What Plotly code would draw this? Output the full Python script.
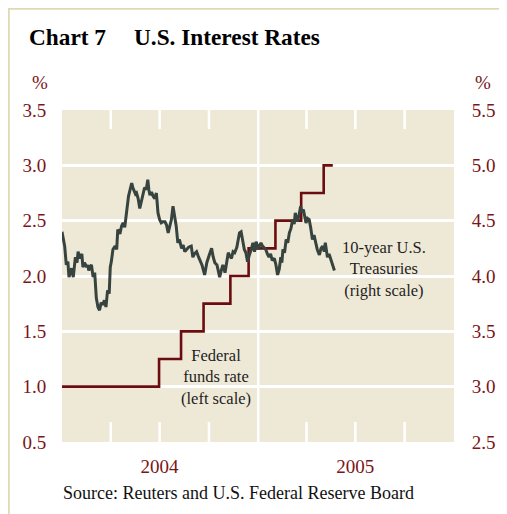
import plotly.graph_objects as go

# ---- data ----
treasury_dates = [
    "2004-01-01", "2004-01-04", "2004-01-06", "2004-01-09", "2004-01-12", "2004-01-14",
    "2004-01-17", "2004-01-19", "2004-01-22", "2004-01-26", "2004-01-29", "2004-01-31",
    "2004-02-02", "2004-02-04", "2004-02-07", "2004-02-09", "2004-02-12", "2004-02-16",
    "2004-02-18", "2004-02-20", "2004-02-23", "2004-02-25", "2004-02-28", "2004-03-02",
    "2004-03-05", "2004-03-08", "2004-03-11", "2004-03-14", "2004-03-17", "2004-03-20",
    "2004-03-23", "2004-03-26", "2004-03-29", "2004-03-31", "2004-04-02", "2004-04-05",
    "2004-04-09", "2004-04-12", "2004-04-14", "2004-04-18", "2004-04-21", "2004-04-24",
    "2004-04-27", "2004-04-30", "2004-05-02", "2004-05-04", "2004-05-07", "2004-05-10",
    "2004-05-12", "2004-05-14", "2004-05-17", "2004-05-19", "2004-05-22", "2004-05-25",
    "2004-05-28", "2004-05-31", "2004-06-03", "2004-06-06", "2004-06-09", "2004-06-11",
    "2004-06-13", "2004-06-16", "2004-06-19", "2004-06-22", "2004-06-25", "2004-06-28",
    "2004-07-01", "2004-07-04", "2004-07-07", "2004-07-11", "2004-07-14", "2004-07-17",
    "2004-07-20", "2004-07-23", "2004-07-26", "2004-07-29", "2004-08-01", "2004-08-04",
    "2004-08-07", "2004-08-11", "2004-08-14", "2004-08-17", "2004-08-20", "2004-08-24",
    "2004-08-29", "2004-09-01", "2004-09-04", "2004-09-08", "2004-09-11", "2004-09-14",
    "2004-09-18", "2004-09-23", "2004-09-27", "2004-10-01", "2004-10-06", "2004-10-09",
    "2004-10-12", "2004-10-16", "2004-10-21", "2004-10-24", "2004-10-27", "2004-10-31",
    "2004-11-03", "2004-11-06", "2004-11-09", "2004-11-12", "2004-11-15", "2004-11-18",
    "2004-11-22", "2004-11-27", "2004-11-30", "2004-12-03", "2004-12-06", "2004-12-09",
    "2004-12-12", "2004-12-16", "2004-12-19", "2004-12-22", "2004-12-25", "2004-12-28",
    "2005-01-01", "2005-01-03", "2005-01-06", "2005-01-09", "2005-01-12", "2005-01-15",
    "2005-01-18", "2005-01-21", "2005-01-24", "2005-01-27", "2005-01-31", "2005-02-03",
    "2005-02-06", "2005-02-09", "2005-02-12", "2005-02-14", "2005-02-16", "2005-02-19",
    "2005-02-22", "2005-02-25", "2005-02-28", "2005-03-03", "2005-03-06", "2005-03-09",
    "2005-03-11", "2005-03-13", "2005-03-15", "2005-03-18", "2005-03-21", "2005-03-23",
    "2005-03-26", "2005-03-29", "2005-03-31", "2005-04-03", "2005-04-06", "2005-04-09",
    "2005-04-12", "2005-04-15", "2005-04-18", "2005-04-21", "2005-04-25", "2005-04-28",
    "2005-05-01", "2005-05-04", "2005-05-06", "2005-05-08", "2005-05-10", "2005-05-13",
    "2005-05-17", "2005-05-20", "2005-05-23",
]
treasury_values = [
    4.40, 4.33, 4.27, 4.10, 4.13, 3.99,
    4.05, 4.07, 3.99, 4.17, 4.12, 4.22,
    4.18, 4.16, 4.20, 4.08, 4.12, 4.08,
    4.10, 4.05, 4.09, 4.10, 3.99, 4.03,
    3.80, 3.72, 3.69, 3.76, 3.74, 3.78,
    3.72, 3.87, 3.84, 4.08, 4.13, 4.24,
    4.27, 4.24, 4.42, 4.38, 4.45, 4.48,
    4.44, 4.57, 4.62, 4.72, 4.78, 4.84,
    4.80, 4.78, 4.74, 4.75, 4.70, 4.61,
    4.68, 4.75, 4.80, 4.78, 4.87, 4.78,
    4.73, 4.76, 4.72, 4.70, 4.75, 4.57,
    4.51, 4.48, 4.49, 4.49, 4.46, 4.39,
    4.45, 4.51, 4.63, 4.54, 4.45, 4.30,
    4.33, 4.25, 4.28, 4.22, 4.24, 4.26,
    4.27, 4.17, 4.20, 4.22, 4.18, 4.14,
    4.10, 4.01, 4.12, 4.18, 4.25, 4.17,
    4.12, 4.10, 3.99, 4.05, 4.10, 4.03,
    4.13, 4.21, 4.18, 4.16, 4.22, 4.21,
    4.26, 4.39, 4.40, 4.30, 4.24, 4.21,
    4.13, 4.20, 4.24, 4.30, 4.22, 4.31,
    4.24, 4.27, 4.30, 4.27, 4.25, 4.24,
    4.20, 4.17, 4.20, 4.14, 4.16, 4.10,
    4.01, 4.06, 4.17, 4.12, 4.24, 4.21,
    4.33, 4.30, 4.39, 4.43, 4.51, 4.47,
    4.57, 4.53, 4.49, 4.55, 4.63, 4.58,
    4.60, 4.53, 4.48, 4.52, 4.51, 4.43,
    4.33, 4.37, 4.30, 4.24, 4.19, 4.25,
    4.27, 4.22, 4.30, 4.24, 4.17, 4.20,
    4.14, 4.10, 4.05,
]

fed_dates = ["2004-01-01", "2004-06-30", "2004-08-10", "2004-09-21", "2004-11-10",
             "2004-12-14", "2005-02-02", "2005-03-22", "2005-05-03", "2005-05-20"]
fed_values = [1.00, 1.25, 1.50, 1.75, 2.00, 2.25, 2.50, 2.75, 3.00, 3.00]

left_ticks = [0.5, 1.0, 1.5, 2.0, 2.5, 3.0, 3.5]
right_ticks = [2.5, 3.0, 3.5, 4.0, 4.5, 5.0, 5.5]
year_label_dates = ["2004-07-01", "2005-07-01"]
year_labels = ["2004", "2005"]
quarter_dates = ["2004-04-01", "2004-07-01", "2004-10-01",
                 "2005-04-01", "2005-07-01", "2005-10-01"]
year_break = "2005-01-01"

RED = "#7A1518"
LINE_RED = "#6B0D10"
GREEN = "#36433E"
BG = "#EEE9D7"
FONT = "Liberation Serif"

fig = go.Figure()
fig.add_trace(go.Scatter(x=fed_dates, y=fed_values, mode="lines", line_shape="hv",
                         line=dict(color=LINE_RED, width=2.6), yaxis="y", hoverinfo="skip"))
fig.add_trace(go.Scatter(x=treasury_dates, y=treasury_values, mode="lines",
                         line=dict(color=GREEN, width=3.0), yaxis="y2", hoverinfo="skip"))

# page body has an 8px margin; figure is sized/positioned so the plot area
# lands at page x 62..454, y 110..442
W, H = 392.0, 332.0
def px(xp):
    return (xp - 62) / W
def py(yp):
    return (442 - yp) / H

shapes = []
shapes.append(dict(type="line", xref="x", yref="paper", x0=year_break, x1=year_break,
                   y0=0, y1=1, line=dict(color="white", width=2.5), layer="below"))
for q in quarter_dates:
    shapes.append(dict(type="line", xref="x", yref="paper", x0=q, x1=q, y0=1, y1=1 - 19/332,
                       line=dict(color="white", width=2.5), layer="below"))
    shapes.append(dict(type="line", xref="x", yref="paper", x0=q, x1=q, y0=0, y1=20/332,
                       line=dict(color="white", width=2.5), layer="below"))
shapes.append(dict(type="line", xref="paper", yref="paper", x0=px(8.8), x1=px(8.8),
                   y0=py(8.5), y1=py(520), line=dict(color="#E2D8B2", width=2)))
shapes.append(dict(type="line", xref="paper", yref="paper", x0=px(8), x1=px(520),
                   y0=py(8.8), y1=py(8.8), line=dict(color="#E2D8B2", width=2)))

annotations = [
    dict(text="<b>Chart 7</b>", x=px(27), y=py(37), xref="paper", yref="paper",
         xanchor="left", yanchor="middle", showarrow=False,
         font=dict(family=FONT, size=23.3, color="black")),
    dict(text="<b>U.S. Interest Rates</b>", x=px(132), y=py(37), xref="paper", yref="paper",
         xanchor="left", yanchor="middle", showarrow=False,
         font=dict(family=FONT, size=23.3, color="black")),
    dict(text="%", x=px(40), y=py(82), xref="paper", yref="paper", showarrow=False,
         xanchor="center", yanchor="middle", font=dict(family=FONT, size=19, color=RED)),
    dict(text="%", x=px(483), y=py(82), xref="paper", yref="paper", showarrow=False,
         xanchor="center", yanchor="middle", font=dict(family=FONT, size=19, color=RED)),
    dict(text="10-year U.S.<br>Treasuries<br>(right scale)", x=px(384), y=py(269),
         xref="paper", yref="paper", showarrow=False, xanchor="center", yanchor="middle",
         align="center", font=dict(family=FONT, size=16.5, color="#1E1E1E")),
    dict(text="Federal<br>funds rate<br>(left scale)", x=px(216), y=py(377),
         xref="paper", yref="paper", showarrow=False, xanchor="center", yanchor="middle",
         align="center", font=dict(family=FONT, size=16.5, color="#1E1E1E")),
    dict(text="Source: Reuters and U.S. Federal Reserve Board", x=px(61), y=py(493),
         xref="paper", yref="paper", showarrow=False, xanchor="left", yanchor="middle",
         font=dict(family=FONT, size=18, color="#111111")),
]

fig.update_layout(
    width=499, height=506,
    margin=dict(l=54, r=53, t=102, b=72, pad=0),
    paper_bgcolor="white", plot_bgcolor=BG,
    showlegend=False,
    xaxis=dict(type="date", range=["2004-01-01", "2006-01-01"], showgrid=False,
               zeroline=False, showline=False, tickvals=year_label_dates,
               ticktext=year_labels, ticks="outside", ticklen=7,
               tickcolor="rgba(0,0,0,0)",
               tickfont=dict(family=FONT, size=19, color=RED)),
    yaxis=dict(range=[0.5, 3.5], tickvals=left_ticks,
               ticktext=[f"{v:.1f}" for v in left_ticks],
               showgrid=True, gridcolor="white", gridwidth=2.5, zeroline=False,
               showline=False, ticks="outside", ticklen=11, tickcolor="rgba(0,0,0,0)",
               tickfont=dict(family=FONT, size=19, color=RED)),
    yaxis2=dict(range=[2.5, 5.5], tickvals=right_ticks,
                ticktext=[f"{v:.1f}" for v in right_ticks],
                overlaying="y", side="right", showgrid=False, zeroline=False,
                showline=False, ticks="outside", ticklen=13, tickcolor="rgba(0,0,0,0)",
                tickfont=dict(family=FONT, size=19, color=RED)),
    shapes=shapes,
    annotations=annotations,
)

fig.write_html("out.html")
